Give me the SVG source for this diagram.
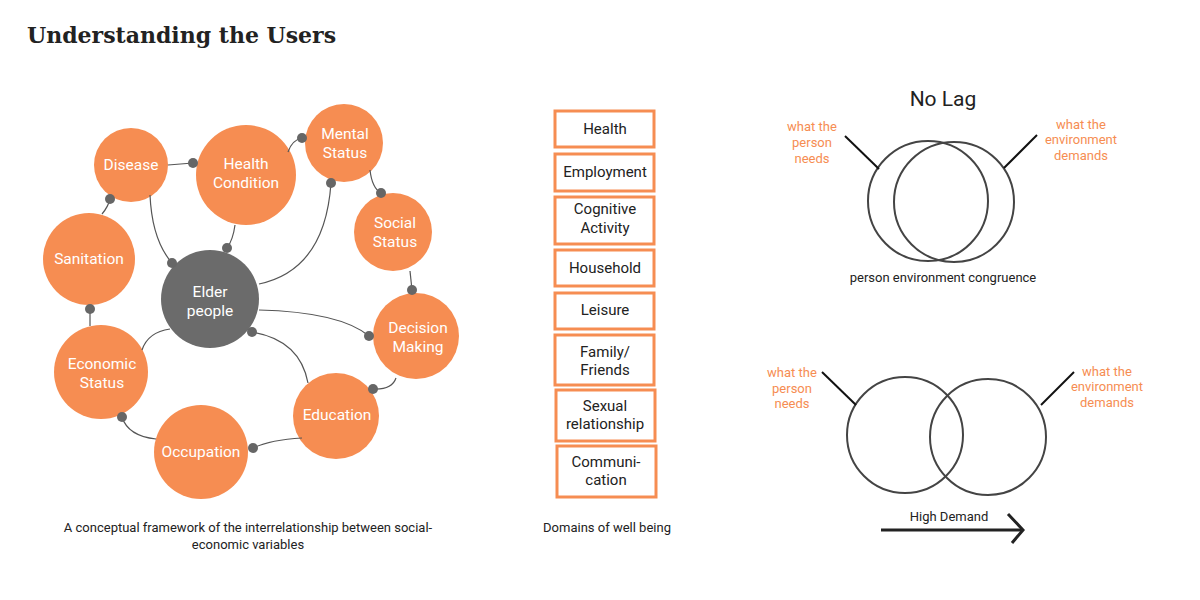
<svg xmlns="http://www.w3.org/2000/svg" width="1200" height="600" viewBox="0 0 1200 600">
<style>
.node{fill:#f68d52}
.elder{fill:#6b6b6b}
.nt{font-family:Roboto,"Liberation Sans",sans-serif;font-size:15.5px;fill:#fff;text-anchor:middle}
.conn{fill:none;stroke:#555;stroke-width:1.2}
.dot{fill:#666}
.box{fill:#fff;stroke:#f68d52;stroke-width:3}
.bt{font-family:Roboto,"Liberation Sans",sans-serif;font-size:15px;fill:#222;text-anchor:middle}
.cap{font-family:Roboto,"Liberation Sans",sans-serif;font-size:13px;fill:#222;text-anchor:middle}
.ol{font-family:Roboto,"Liberation Sans",sans-serif;font-size:13px;fill:#f68d52;text-anchor:middle}
.venn{fill:none;stroke:#444;stroke-width:2}
.ptr{stroke:#111;stroke-width:2}
</style>
<rect width="1200" height="600" fill="#fff"/>
<text x="27" y="43" font-family="'DejaVu Serif',serif" font-weight="bold" font-size="22" fill="#222">Understanding the Users</text>

<g id="disease"><circle class="node" cx="131" cy="165" r="37"/><text class="nt" x="131" y="170">Disease</text></g>
<g id="health-condition"><circle class="node" cx="246" cy="175" r="50"/><text class="nt" x="246" y="169">Health</text><text class="nt" x="246" y="188">Condition</text></g>
<g id="mental-status"><circle class="node" cx="344" cy="143" r="39"/><text class="nt" x="345" y="139">Mental</text><text class="nt" x="345" y="158">Status</text></g>
<g id="social-status"><circle class="node" cx="393" cy="232" r="39"/><text class="nt" x="395" y="228">Social</text><text class="nt" x="395" y="247">Status</text></g>
<g id="decision-making"><circle class="node" cx="416" cy="336" r="43"/><text class="nt" x="418" y="333">Decision</text><text class="nt" x="418" y="352">Making</text></g>
<g id="education"><circle class="node" cx="336" cy="416" r="43"/><text class="nt" x="337" y="420">Education</text></g>
<g id="occupation"><circle class="node" cx="201" cy="452" r="47"/><text class="nt" x="201" y="457">Occupation</text></g>
<g id="economic-status"><circle class="node" cx="101" cy="372" r="47"/><text class="nt" x="102" y="369">Economic</text><text class="nt" x="102" y="388">Status</text></g>
<g id="sanitation"><circle class="node" cx="89" cy="259" r="46"/><text class="nt" x="89" y="264">Sanitation</text></g>
<g id="elder-people"><circle class="elder" cx="210" cy="299" r="49"/><text class="nt" x="210" y="297">Elder</text><text class="nt" x="210" y="316">people</text></g>

<g id="connectors">
<path class="conn" d="M168,165 L193,163"/>
<path class="conn" d="M288,152 Q292,140 302,138"/>
<path class="conn" d="M370,170 Q372,188 381,193"/>
<path class="conn" d="M410,271 L412,290"/>
<path class="conn" d="M396,378 Q392,390 373,389"/>
<path class="conn" d="M302,438 Q270,440 253,448"/>
<path class="conn" d="M156,439 Q128,436 122,417"/>
<path class="conn" d="M90,326 L90,309"/>
<path class="conn" d="M102,214 Q108,207 110,199"/>
<path class="conn" d="M150,195 Q152,240 172,263"/>
<path class="conn" d="M235,225 Q233,240 227,248"/>
<path class="conn" d="M331,183 Q325,270 259,284"/>
<path class="conn" d="M259,310 Q340,312 369,336"/>
<path class="conn" d="M308,383 Q300,340 252,332"/>
<path class="conn" d="M170,329 Q148,332 142,350"/>
<circle class="dot" cx="193" cy="163" r="5"/>
<circle class="dot" cx="302" cy="138" r="5"/>
<circle class="dot" cx="381" cy="193" r="5"/>
<circle class="dot" cx="412" cy="290" r="5"/>
<circle class="dot" cx="373" cy="389" r="5"/>
<circle class="dot" cx="253" cy="448" r="5"/>
<circle class="dot" cx="122" cy="417" r="5"/>
<circle class="dot" cx="90" cy="309" r="5"/>
<circle class="dot" cx="110" cy="199" r="5"/>
<circle class="dot" cx="172" cy="263" r="5"/>
<circle class="dot" cx="227" cy="248" r="5"/>
<circle class="dot" cx="331" cy="183" r="5"/>
<circle class="dot" cx="369" cy="336" r="5"/>
<circle class="dot" cx="252" cy="332" r="5"/>
</g>
<text class="cap" x="248" y="532">A conceptual framework of the interrelationship between social-</text>
<text class="cap" x="248" y="549">economic variables</text>

<g id="domains">
<g id="d-health"><rect class="box" x="555" y="111" width="99" height="36"/><text class="bt" x="605" y="134">Health</text></g>
<g id="d-employment"><rect class="box" x="555" y="154" width="99" height="37"/><text class="bt" x="605" y="177">Employment</text></g>
<g id="d-cognitive"><rect class="box" x="555" y="197" width="99" height="47"/><text class="bt" x="605" y="214">Cognitive</text><text class="bt" x="605" y="233">Activity</text></g>
<g id="d-household"><rect class="box" x="555" y="250" width="99" height="36"/><text class="bt" x="605" y="273">Household</text></g>
<g id="d-leisure"><rect class="box" x="555" y="293" width="99" height="36"/><text class="bt" x="605" y="315">Leisure</text></g>
<g id="d-family"><rect class="box" x="555" y="335" width="99" height="50"/><text class="bt" x="605" y="357">Family/</text><text class="bt" x="605" y="375">Friends</text></g>
<g id="d-sexual"><rect class="box" x="556" y="390" width="99" height="51"/><text class="bt" x="605" y="411">Sexual</text><text class="bt" x="605" y="429">relationship</text></g>
<g id="d-communication"><rect class="box" x="557" y="446" width="99" height="51"/><text class="bt" x="606" y="467">Communi-</text><text class="bt" x="606" y="485">cation</text></g>
</g>
<text class="cap" x="607" y="532">Domains of well being</text>

<g id="no-lag">
<text x="943" y="106" font-family="Roboto,'Liberation Sans',sans-serif" font-size="21" fill="#222" text-anchor="middle">No Lag</text>
<circle class="venn" cx="928" cy="201" r="60"/>
<circle class="venn" cx="954" cy="202" r="60"/>
<line class="ptr" x1="845" y1="136" x2="879" y2="169"/>
<line class="ptr" x1="1037" y1="135" x2="1004" y2="168"/>
<text class="ol" x="812" y="131">what the</text><text class="ol" x="812" y="147">person</text><text class="ol" x="812" y="163">needs</text>
<text class="ol" x="1081" y="129">what the</text><text class="ol" x="1081" y="144">environment</text><text class="ol" x="1081" y="160">demands</text>
<text class="cap" x="943" y="282">person environment congruence</text>
</g>

<g id="high-demand">
<circle class="venn" cx="905" cy="435" r="58"/>
<circle class="venn" cx="988" cy="437" r="58"/>
<line class="ptr" x1="822" y1="372" x2="856" y2="405"/>
<line class="ptr" x1="1074" y1="372" x2="1041" y2="405"/>
<text class="ol" x="792" y="377">what the</text><text class="ol" x="792" y="393">person</text><text class="ol" x="792" y="408">needs</text>
<text class="ol" x="1107" y="376">what the</text><text class="ol" x="1107" y="391">environment</text><text class="ol" x="1107" y="407">demands</text>
<text class="cap" x="949" y="521">High Demand</text>
<line x1="881" y1="530" x2="1021" y2="530" stroke="#222" stroke-width="3"/>
<polyline points="1008,514 1023,530 1012,543" fill="none" stroke="#222" stroke-width="3"/>
</g>
</svg>
